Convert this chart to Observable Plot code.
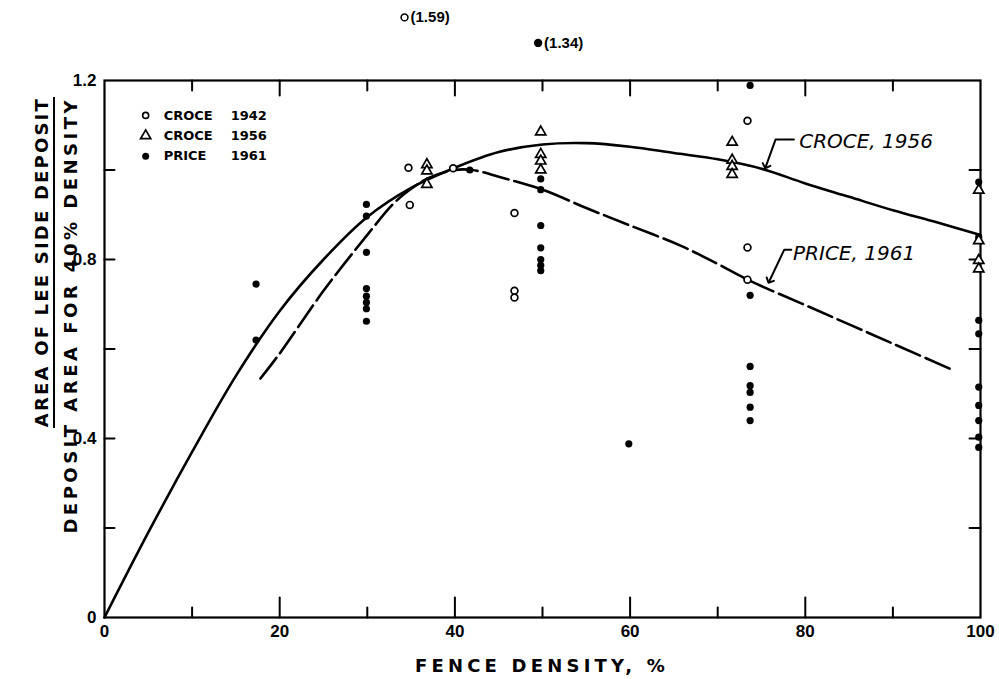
<!DOCTYPE html>
<html><head><meta charset="utf-8">
<script src="https://cdn.jsdelivr.net/npm/d3@7"></script>
<script src="https://cdn.jsdelivr.net/npm/@observablehq/plot@0.6"></script>
<style>
html,body{margin:0;padding:0;background:#fff;}
#chart svg{display:block;}
</style>
</head><body><div id="chart"></div>
<script>
// ---- data ----
// Croce 1942 (open circles)
const croce1942X = [34.7, 34.85, 39.8, 46.8, 46.8, 46.8, 73.4, 73.4, 73.4];
const croce1942Y = [1.005, 0.922, 1.004, 0.904, 0.73, 0.715, 1.11, 0.827, 0.755];
// Croce 1956 (open triangles)
const croce1956X = [36.8, 36.8, 36.8, 49.8, 49.8, 49.8, 49.8, 71.65, 71.65, 71.65, 71.65, 99.8, 99.8, 99.8, 99.8];
const croce1956Y = [1.012, 0.998, 0.968, 1.085, 1.035, 1.02, 1.0, 1.062, 1.022, 1.008, 0.99, 0.955, 0.842, 0.798, 0.779];
// Price 1961 (filled dots)
const price1961X = [17.3, 17.3,
  29.9, 29.9, 29.9, 29.9, 29.9, 29.9, 29.9, 29.9,
  41.7,
  49.8, 49.8, 49.8, 49.8, 49.8, 49.8, 49.8,
  59.85,
  73.7, 73.7, 73.7, 73.7, 73.7, 73.7, 73.7,
  99.8, 99.8, 99.8, 99.8, 99.8, 99.8, 99.8, 99.8, 99.8];
const price1961Y = [0.745, 0.62,
  0.923, 0.897, 0.816, 0.735, 0.718, 0.704, 0.69, 0.662,
  1.0,
  0.98, 0.956, 0.876, 0.826, 0.80, 0.787, 0.775,
  0.388,
  1.189, 0.72, 0.561, 0.518, 0.503, 0.47, 0.44,
  0.973, 0.85, 0.664, 0.634, 0.515, 0.474, 0.44, 0.403, 0.38];
// Off-scale points (true values shown in parentheses above the frame)
const offScaleX = [34.25, 49.5];
const offScaleValue = [1.59, 1.34];
const offScaleSeries = ["CROCE 1942", "PRICE 1961"];
// Fitted curves
const croceCurveX = [0, 5, 10, 15, 20, 25, 30, 35, 40, 45, 50, 55, 60, 65, 70, 75, 80, 85, 90, 95, 100];
const croceCurveY = [0, 0.19, 0.37, 0.54, 0.685, 0.8, 0.895, 0.96, 1.005, 1.04, 1.057, 1.06, 1.052, 1.038, 1.024, 1.003, 0.97, 0.94, 0.91, 0.883, 0.855];
const priceCurveX = [17.8, 20, 25, 30, 33, 35, 37, 40, 42, 45, 50, 55, 60, 65.75, 70, 73.4, 80, 85, 90, 96.95];
const priceCurveY = [0.534, 0.59, 0.73, 0.855, 0.925, 0.958, 0.982, 1.0, 1.0, 0.985, 0.956, 0.915, 0.876, 0.831, 0.79, 0.755, 0.698, 0.655, 0.612, 0.552];
// Axis ticks
const xMajorTicks = [20, 40, 60, 80];
const xMinorTicks = [10, 30, 50, 70, 90];
const xTickLabels = [0, 20, 40, 60, 80, 100];
const yTicks = [0.2, 0.4, 0.6, 0.8, 1.0];
const yTickLabels = [0, 0.4, 0.8, 1.2];
// Legend / annotations
const legendNames = ["CROCE", "CROCE", "PRICE"];
const legendYears = ["1942", "1956", "1961"];
const legendSymbols = ["circle", "triangle", "dot"];
const curveLabels = ["CROCE, 1956", "PRICE, 1961"];

// ---- build tables ----
const pts = (xs, ys) => xs.map((x, i) => ({x, y: ys[i]}));
const c42 = pts(croce1942X, croce1942Y);
const c56 = pts(croce1956X, croce1956Y);
const p61 = pts(price1961X, price1961Y);
const croceCurve = pts(croceCurveX, croceCurveY);
const priceCurve = pts(priceCurveX, priceCurveY);

// off-scale points are drawn just above the frame (layout positions)
const offScaleDrawY = [1.341, 1.284];
const offScale = offScaleX.map((x, i) => ({x, y: offScaleDrawY[i], label: `(${offScaleValue[i].toFixed(2)})`, series: offScaleSeries[i]}));

// legend layout (layout constants in data units)
const legend = legendNames.map((n, i) => ({name: n, year: legendYears[i], sym: legendSymbols[i], y: 1.122 - i * 0.0455}));

// curve label leaders (layout)
const croceLeader = [{x: 78.7, y: 1.068}, {x: 76.6, y: 1.068}, {x: 75.5, y: 1.008}];
const priceLeader = [{x: 78.4, y: 0.822}, {x: 77.6, y: 0.822}, {x: 75.9, y: 0.752}];
const curveLabelPos = [{x: 79.3, y: 1.063, label: curveLabels[0]}, {x: 78.6, y: 0.814, label: curveLabels[1]}];

const FONT = "'DejaVu Sans', sans-serif";
const TFONT = "'Liberation Sans', Arial, sans-serif";
const NFONT = "'Liberation Sans Narrow', 'Liberation Sans', Arial, sans-serif";
const tickShape = {draw(ctx, l) { ctx.moveTo(0, 0); ctx.lineTo(0, -l); }};
const tk = (data, opts) => Plot.vector(data, {anchor: "start", shape: tickShape, stroke: "black", strokeWidth: 2, ...opts});

const chart = Plot.plot({
  width: 999, height: 679,
  marginLeft: 104, marginRight: 19, marginTop: 80, marginBottom: 62,
  x: {domain: [0, 100]},
  y: {domain: [0, 1.2]},
  style: {fontFamily: FONT, background: "white", color: "black"},
  marks: [
    Plot.frame({stroke: "black", strokeWidth: 2.2}),
    // inward ticks
    tk(xMajorTicks, {x: d => d, frameAnchor: "bottom", rotate: 0, length: 20}),
    tk(xMinorTicks, {x: d => d, frameAnchor: "bottom", rotate: 0, length: 10}),
    tk(xMajorTicks, {x: d => d, frameAnchor: "top", rotate: 180, length: 15}),
    tk(xMinorTicks, {x: d => d, frameAnchor: "top", rotate: 180, length: 10}),
    tk(yTicks, {y: d => d, frameAnchor: "left", rotate: 90, length: 10}),
    tk(yTicks, {y: d => d, frameAnchor: "right", rotate: -90, length: 11}),
    Plot.axisX({ticks: xTickLabels, tickSize: 0, tickPadding: 7, fontSize: 17, fontWeight: "bold", fontFamily: TFONT, tickFormat: d => String(d), label: null}),
    Plot.axisY({ticks: yTickLabels, tickSize: 0, tickPadding: 8, fontSize: 17, fontWeight: "bold", fontFamily: NFONT, tickFormat: d => d === 0 ? "0" : d.toFixed(1), label: null}),
    // curves
    Plot.line(croceCurve, {x: "x", y: "y", curve: "catmull-rom", stroke: "black", strokeWidth: 2.6}),
    Plot.line(priceCurve, {x: "x", y: "y", curve: "catmull-rom", stroke: "black", strokeWidth: 2.6, strokeDasharray: "26,6"}),
    // data
    Plot.dot(p61, {x: "x", y: "y", r: 3.6, fill: "black", stroke: "none"}),
    Plot.dot(c42, {x: "x", y: "y", r: 3.4, fill: "white", stroke: "black", strokeWidth: 1.7}),
    Plot.dot(c56, {x: "x", y: "y", r: 3.8, symbol: "triangle", fill: "white", stroke: "black", strokeWidth: 1.7}),
    // off-scale points
    Plot.dot(offScale, {x: "x", y: "y", r: 3.4, fill: d => d.series === "PRICE 1961" ? "black" : "white", stroke: "black", strokeWidth: 1.6}),
    Plot.text(offScale, {x: "x", y: "y", text: "label", textAnchor: "start", dx: 6, fontSize: 15, fontWeight: "bold", fontFamily: TFONT}),
    // legend
    Plot.dot(legend.filter(d => d.sym === "circle"), {x: () => 4.7, y: "y", r: 3, fill: "white", stroke: "black", strokeWidth: 1.6}),
    Plot.dot(legend.filter(d => d.sym === "triangle"), {x: () => 4.7, y: "y", r: 3.8, symbol: "triangle", fill: "white", stroke: "black", strokeWidth: 1.7}),
    Plot.dot(legend.filter(d => d.sym === "dot"), {x: () => 4.7, y: "y", r: 3.5, fill: "black"}),
    Plot.text(legend, {x: () => 6.75, y: "y", text: "name", textAnchor: "start", fontSize: 13, fontWeight: "bold"}),
    Plot.text(legend, {x: () => 14.4, y: "y", text: "year", textAnchor: "start", fontSize: 13, fontWeight: "bold"}),
    // curve labels
    Plot.line(croceLeader, {x: "x", y: "y", stroke: "black", strokeWidth: 2, markerEnd: "arrow"}),
    Plot.line(priceLeader, {x: "x", y: "y", stroke: "black", strokeWidth: 2, markerEnd: "arrow"}),
    Plot.text(curveLabelPos, {x: "x", y: "y", text: "label", textAnchor: "start", fontSize: 20, fontStyle: "italic"})
  ]
});
document.getElementById("chart").appendChild(chart);

// axis titles
const svg = d3.select(chart);
svg.append("text")
  .attr("x", 542).attr("y", 672)
  .attr("text-anchor", "middle")
  .attr("font-family", FONT).attr("font-size", 18).attr("font-weight", "bold")
  .attr("letter-spacing", 4.2)
  .text("FENCE DENSITY, %");
const yt = svg.append("g").attr("font-family", FONT).attr("font-size", 18).attr("font-weight", "bold").attr("letter-spacing", 2.2);
yt.append("text").attr("transform", "translate(48,97) rotate(-90)").attr("text-anchor", "end").text("AREA OF LEE SIDE DEPOSIT");
yt.append("line").attr("x1", 54).attr("x2", 54).attr("y1", 97).attr("y2", 428).attr("stroke", "black").attr("stroke-width", 2);
yt.append("text").attr("transform", "translate(77,97) rotate(-90)").attr("text-anchor", "end").attr("letter-spacing", 3.5).text("DEPOSIT AREA FOR 40% DENSITY");
</script>
</body></html>
